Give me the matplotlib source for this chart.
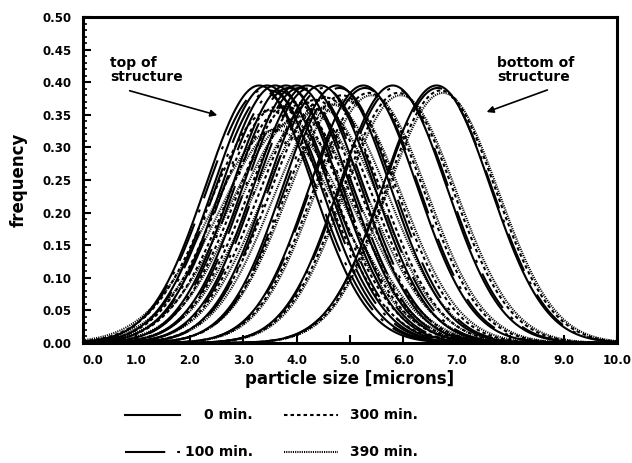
import numpy as np
import matplotlib
matplotlib.use("Agg")
import matplotlib.pyplot as plt
from matplotlib.lines import Line2D
from matplotlib.transforms import ScaledTranslation

plt.rcParams['font.family'] = ['DejaVu Sans']
plt.rcParams['font.weight'] = 'bold'
plt.rcParams['lines.scale_dashes'] = False

# Distribution parameters (mean, std of particle size in microns)
times = ["0 min.", "100 min.", "300 min.", "390 min."]
means_0 = [3.30, 3.45, 3.60, 3.80, 4.00, 4.20, 4.45, 4.75, 5.25, 5.80, 6.62]
sd_0 = [1.01, 1.01, 1.01, 1.01, 1.01, 1.01, 1.01, 1.01, 1.01, 1.01, 1.01]
means_100 = [3.35, 3.50, 3.65, 3.85, 4.05, 4.25, 4.50, 4.80, 5.28, 5.83, 6.64]
sd_100 = [1.03, 1.03, 1.03, 1.02, 1.02, 1.02, 1.02, 1.02, 1.02, 1.02, 1.02]
means_300 = [3.50, 3.65, 3.80, 3.95, 4.15, 4.35, 4.55, 4.85, 5.35, 5.90, 6.70]
sd_300 = [1.12, 1.10, 1.10, 1.08, 1.08, 1.07, 1.06, 1.05, 1.04, 1.04, 1.03]
means_390 = [3.60, 3.75, 3.90, 4.05, 4.25, 4.45, 4.65, 4.90, 5.40, 5.95, 6.74]
sd_390 = [1.22, 1.20, 1.18, 1.15, 1.13, 1.11, 1.09, 1.07, 1.05, 1.05, 1.04]

xticks = [0, 1, 2, 3, 4, 5, 6, 7, 8, 9, 10]
xticklabels = ["0.0", "1.0", "2.0", "3.0", "4.0", "5.0", "6.0", "7.0", "8.0", "9.0", "10.0"]
yticks = [0.0, 0.05, 0.10, 0.15, 0.20, 0.25, 0.30, 0.35, 0.40, 0.45, 0.50]
yticklabels = ["0.00", "0.05", "0.10", "0.15", "0.20", "0.25", "0.30", "0.35", "0.40", "0.45", "0.50"]

W, H = 632, 463
fig = plt.figure(figsize=(W / 100, H / 100), dpi=100)
ax = fig.add_axes([83 / W, 1 - 343 / H, (617 - 83) / W, (343 - 17) / H])

styles = {
    "0 min.": dict(ls="-", lw=1.5),
    "100 min.": dict(ls=(0, (29, 8.6, 2.2, 8.6)), lw=1.5),
    "300 min.": dict(ls=(0, (2.5, 2.2)), lw=1.5),
    "390 min.": dict(ls=(0, (0.8, 0.8)), lw=1.5),
}

x = np.linspace(0, 10, 600)
groups = [(times[0], means_0, sd_0), (times[1], means_100, sd_100),
          (times[2], means_300, sd_300), (times[3], means_390, sd_390)]
for name, ms, ss in groups[::-1]:
    for m, s in zip(ms, ss):
        y = np.exp(-0.5 * ((x - m) / s) ** 2) / (s * np.sqrt(2 * np.pi))
        ax.plot(x, y, color="black", **styles[name])

ax.set_xlim(0, 10)
ax.set_ylim(0, 0.5)
ax.set_xticks(xticks)
ax.set_xticklabels(xticklabels)
ax.set_yticks(yticks)
ax.set_yticklabels(yticklabels)
ax.set_yticks(np.arange(0, 0.5001, 0.01), minor=True)
ax.tick_params(axis="both", which="major", direction="in", length=6, width=1.5,
               labelsize=8.5, top=False, right=False)
ax.tick_params(axis="y", which="minor", direction="in", length=3, width=1.2)
ax.tick_params(axis="x", which="major", pad=8)
ax.tick_params(axis="y", which="major", pad=8)
for sp in ax.spines.values():
    sp.set_linewidth(2.2)

# first x tick label sits a little to the right in the reference
lbl0 = ax.get_xticklabels()[0]
lbl0.set_transform(lbl0.get_transform() + ScaledTranslation(10 / 100, 0, fig.dpi_scale_trans))

ax.set_xlabel("particle size [microns]", fontsize=12, fontweight="bold", labelpad=2)
ax.set_ylabel("frequency", fontsize=12, fontweight="bold", labelpad=11)

def fx(px):
    return px / W

def fy(py):
    return 1 - py / H

fig.text(fx(110), fy(70), "top of\nstructure", fontsize=10, fontweight="bold",
         ha="left", va="center", linespacing=0.95)
fig.text(fx(497), fy(70), "bottom of\nstructure", fontsize=10, fontweight="bold",
         ha="left", va="center", linespacing=0.95)
ax.annotate("", xy=(fx(220), fy(116)), xycoords="figure fraction",
            xytext=(fx(127), fy(90)), textcoords="figure fraction",
            arrowprops=dict(arrowstyle="-|>", color="black", lw=1.2, mutation_scale=10))
ax.annotate("", xy=(fx(484), fy(113)), xycoords="figure fraction",
            xytext=(fx(550), fy(89)), textcoords="figure fraction",
            arrowprops=dict(arrowstyle="-|>", color="black", lw=1.2, mutation_scale=10))

# legend drawn manually below the axes
leg = [("0 min.", 125, 180, 253, 415, "right"),
       ("100 min.", 125, 180, 253, 452, "right"),
       ("300 min.", 284, 338, 350, 415, "left"),
       ("390 min.", 284, 338, 350, 452, "left")]
for name, x0, x1, tx, ty, ha in leg:
    fig.add_artist(Line2D([fx(x0), fx(x1)], [fy(ty), fy(ty)], transform=fig.transFigure,
                          color="black", **styles[name]))
    fig.text(fx(tx), fy(ty), name, fontsize=10, fontweight="bold", ha=ha, va="center")

fig.savefig("out.png", dpi=100)
